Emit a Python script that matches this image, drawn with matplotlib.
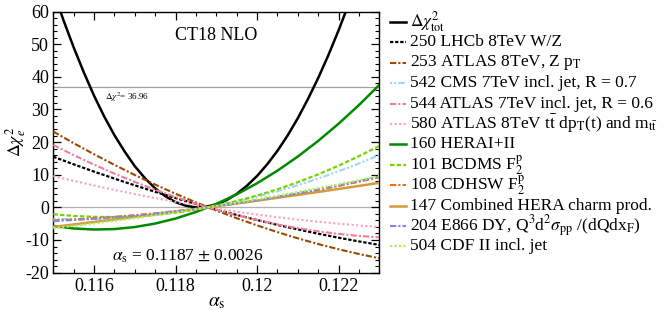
import matplotlib
matplotlib.use("Agg")
import matplotlib.pyplot as plt
from matplotlib.lines import Line2D
from matplotlib.ticker import MultipleLocator, FixedLocator

plt.rcParams['font.family'] = ['Liberation Serif', 'DejaVu Serif']
plt.rcParams['mathtext.fontset'] = 'stix'
plt.rcParams['axes.unicode_minus'] = False

# alpha_s grids
alpha_tot = [0.11500, 0.11525, 0.11550, 0.11575, 0.11600, 0.11625, 0.11650, 0.11675,
             0.11700, 0.11725, 0.11750, 0.11775, 0.11800, 0.11825, 0.11850, 0.11875,
             0.11900, 0.11925, 0.11950, 0.11975, 0.12000, 0.12025, 0.12050, 0.12075,
             0.12100, 0.12125, 0.12150, 0.12175, 0.12200, 0.12225]
chi2_tot = [66.3, 57.3, 49.0, 41.3, 34.2, 27.8, 22.1, 17.1, 12.6, 8.9, 5.8, 3.4, 1.6, 0.5,
            0.0, 0.2, 0.9, 2.2, 4.1, 6.6, 9.6, 13.2, 17.3, 22.0, 27.3, 33.2, 39.6, 46.6,
            54.2, 62.3]

alpha = [0.1150, 0.1155, 0.1160, 0.1165, 0.1170, 0.1175, 0.1180, 0.1185, 0.1190,
         0.1195, 0.1200, 0.1205, 0.1210, 0.1215, 0.1220, 0.1225, 0.1230]

lhcb_250 = [15.50, 13.18, 10.95, 8.80, 6.74, 4.76, 2.86, 1.05, -0.68, -2.33, -3.89,
            -5.37, -6.76, -8.07, -9.30, -10.44, -11.50]
atlas_253 = [23.2, 19.66, 16.26, 13.01, 9.92, 6.97, 4.17, 1.52, -0.98, -3.33, -5.53,
             -7.59, -9.49, -11.24, -12.84, -14.30, -15.60]
cms_542 = [-3.50, -3.64, -3.59, -3.36, -2.96, -2.37, -1.60, -0.66, 0.47, 1.78, 3.27,
           4.94, 6.79, 8.82, 11.04, 13.43, 16.00]
atlas_544 = [19.10, 16.00, 13.08, 10.34, 7.77, 5.38, 3.17, 1.14, -0.72, -2.40, -3.90,
             -5.23, -6.38, -7.35, -8.14, -8.76, -9.20]
atlas_580 = [9.60, 8.11, 6.69, 5.34, 4.05, 2.84, 1.69, 0.61, -0.40, -1.34, -2.21,
             -3.01, -3.75, -4.41, -5.01, -5.54, -6.00]
hera_160 = [-5.70, -6.48, -6.80, -6.66, -6.04, -4.97, -3.43, -1.43, 1.04, 3.98, 7.37,
            11.23, 15.56, 20.35, 25.60, 31.32, 37.50]
bcdms_101 = [-2.10, -2.63, -2.92, -2.96, -2.76, -2.31, -1.62, -0.68, 0.50, 1.93, 3.61,
             5.53, 7.69, 10.10, 12.76, 15.66, 18.80]
cdhsw_108 = [-4.00, -3.71, -3.35, -2.91, -2.41, -1.83, -1.18, -0.47, 0.33, 1.19, 2.12,
             3.12, 4.19, 5.34, 6.55, 7.84, 9.20]
charm_147 = [-6.00, -5.25, -4.49, -3.72, -2.94, -2.14, -1.33, -0.50, 0.34, 1.19, 2.05,
             2.93, 3.81, 4.72, 5.63, 6.56, 7.50]
e866_204 = [-4.20, -3.88, -3.49, -3.03, -2.50, -1.90, -1.22, -0.48, 0.33, 1.22, 2.18,
            3.20, 4.30, 5.47, 6.71, 8.02, 9.40]
cdf_504 = [-6.40, -5.68, -4.93, -4.13, -3.30, -2.43, -1.53, -0.58, 0.40, 1.42, 2.47,
           3.57, 4.70, 5.87, 7.07, 8.32, 9.60]

labels = [r'$\Delta\chi^2_{\rm tot}$',
          '250 LHCb 8TeV W/Z',
          r'253 ATLAS 8TeV, Z p$_{\rm T}$',
          '542 CMS 7TeV incl. jet, R = 0.7',
          '544 ATLAS 7TeV incl. jet, R = 0.6',
          r'580 ATLAS 8TeV t$\bar{\rm t}$ dp$_{\rm T}$(t) and m$_{\rm t\bar{t}}$',
          '160 HERAI+II',
          r'101 BCDMS F$_2^{\rm p}$',
          r'108 CDHSW F$_2^{\rm p}$',
          '147 Combined HERA charm prod.',
          r'204 E866 DY, Q$^3$d$^2\sigma_{\rm pp}$ /(dQdx$_{\rm F}$)',
          '504 CDF II incl. jet']

tolerance = 36.96
alpha_fit = 0.1187
alpha_err = 0.0026

fig = plt.figure(figsize=(6.64, 3.10), dpi=100)
ax = fig.add_axes([0.0803, 0.1206, 0.4909, 0.8423])

ax.axhline(0, color='#b0b0b0', lw=0.9, zorder=1)
ax.axhline(tolerance, color='#a0a0a0', lw=0.9, zorder=1)

series = [
    (alpha_tot, chi2_tot, dict(color='black', lw=1.8, ls='-')),
    (alpha, lhcb_250, dict(color='black', lw=1.6, ls=(0, (1.5, 0.8)))),
    (alpha, atlas_253, dict(color='#9a4a00', lw=1.5, ls=(0, (3, 1, 1, 1)))),
    (alpha, cms_542, dict(color='#9ad8ff', lw=1.5, ls=(0, (1, 1, 1, 1, 3, 1)))),
    (alpha, atlas_544, dict(color='#f47a98', lw=1.5, ls=(0, (3, 1, 1, 1)))),
    (alpha, atlas_580, dict(color='#ff9fb8', lw=1.5, ls=(0, (1, 1.2)))),
    (alpha, hera_160, dict(color='#008a00', lw=1.8, ls='-')),
    (alpha, bcdms_101, dict(color='#77d400', lw=1.6, ls=(0, (2, 1)))),
    (alpha, cdhsw_108, dict(color='#ff6a00', lw=1.5, ls=(0, (3, 1, 1, 1)))),
    (alpha, charm_147, dict(color='#d69a3c', lw=1.8, ls='-')),
    (alpha, e866_204, dict(color='#8585e0', lw=1.5, ls=(0, (3, 1, 1, 1)))),
    (alpha, cdf_504, dict(color='#a8f55a', lw=1.6, ls=(0, (1, 1)))),
]

for xs, ys, st in series:
    ax.plot(xs, ys, **st, zorder=3)

ax.set_xlim(0.115, 0.123)
ax.set_ylim(-20, 60)
ax.xaxis.set_major_locator(FixedLocator([0.116, 0.118, 0.120, 0.122]))
ax.set_xticklabels(['0.116', '0.118', '0.12', '0.122'])
ax.xaxis.set_minor_locator(MultipleLocator(0.0005))
ax.yaxis.set_major_locator(MultipleLocator(10))
ax.yaxis.set_minor_locator(MultipleLocator(2))
ax.tick_params(which='both', direction='in', top=True, right=True, labelsize=13)
ax.tick_params(which='major', length=6, width=0.9)
ax.tick_params(which='minor', length=3, width=0.8)
ax.tick_params(axis='x', pad=4)
ax.tick_params(axis='y', pad=3)
for s in ax.spines.values():
    s.set_linewidth(1.0)

ax.set_xlabel(r'$\alpha_{\rm s}$', fontsize=14)
ax.xaxis.set_label_coords(0.5, -0.082)
ax.set_ylabel(r'$\Delta\chi_e^2$', fontsize=13)
ax.yaxis.set_label_coords(-0.078, 0.5)

ax.text(0.1190, 52.7, 'CT18 NLO', fontsize=13, ha='center', va='center')
ax.text(0.1168, 33.8, r'$\Delta\chi^2$= 36.96', fontsize=6.5, ha='center', va='center')
ax.text(0.1183, -14.9, r'$\alpha_{\rm s}$ = %.4f $\pm$ %.4f' % (alpha_fit, alpha_err),
        fontsize=12.5, ha='center', va='center')

# manual legend
W, H = 664.0, 310.0
x0, x1, xt = 390 / W, 406 / W, 410 / W
y_top, dy = 22.0, 20.4
for i, ((xs, ys, st), lab) in enumerate(zip(series, labels)):
    yy = 1 - (y_top + i * dy) / H
    fig.add_artist(Line2D([x0, x1], [yy, yy], transform=fig.transFigure,
                          color=st['color'], lw=st['lw'], ls=st['ls']))
    fig.text(xt, yy, lab, fontsize=12.5, ha='left', va='center')

fig.savefig('out.png', dpi=100)
